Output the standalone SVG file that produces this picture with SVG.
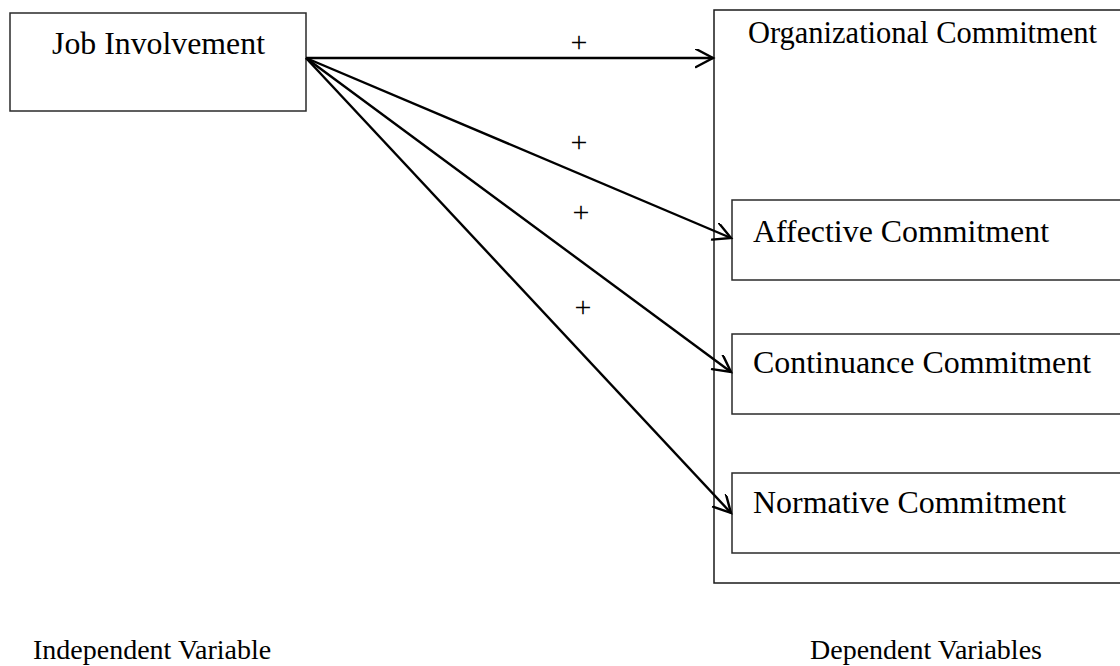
<svg xmlns="http://www.w3.org/2000/svg" width="1120" height="666" viewBox="0 0 1120 666">
  <style>
    .box { fill: #fff; stroke: #2a2a2a; stroke-width: 1.5; }
    .outer { fill: none; stroke: #1a1a1a; stroke-width: 1.5; }
    .lbl { font-family: "Liberation Serif", "Times New Roman", serif; font-size: 32px; fill: #000; }
    .cap { font-family: "Liberation Serif", "Times New Roman", serif; font-size: 28px; fill: #000; }
    .plus { font-family: "Liberation Serif", "Times New Roman", serif; font-size: 30px; fill: #000; text-anchor: middle; }
    .conn { stroke: #000; stroke-width: 2.4; fill: none; marker-end: url(#arr); }
  </style>
  <defs>
    <marker id="arr" markerUnits="userSpaceOnUse" markerWidth="22" markerHeight="22" refX="18" refY="9" orient="auto" viewBox="0 0 22 22">
      <path d="M1,0 L18,9 L1,18" fill="none" stroke="#000" stroke-width="2.4" stroke-linecap="round" stroke-linejoin="miter"/>
    </marker>
  </defs>
  <rect width="1120" height="666" fill="#fff"/>

  <g id="organizational-commitment">
    <rect class="outer" x="714" y="10" width="410" height="573"/>
    <text class="lbl" x="748" y="43" textLength="349" lengthAdjust="spacingAndGlyphs">Organizational Commitment</text>
  </g>

  <g id="job-involvement">
    <rect class="box" x="10" y="13" width="296" height="98"/>
    <text class="lbl" x="52" y="54" textLength="213" lengthAdjust="spacingAndGlyphs">Job Involvement</text>
  </g>

  <g id="affective-commitment">
    <rect class="box" x="732" y="200" width="392" height="80"/>
    <text class="lbl" x="753" y="242" textLength="296" lengthAdjust="spacingAndGlyphs">Affective Commitment</text>
  </g>

  <g id="continuance-commitment">
    <rect class="box" x="732" y="334" width="392" height="80"/>
    <text class="lbl" x="753" y="373" textLength="338" lengthAdjust="spacingAndGlyphs">Continuance Commitment</text>
  </g>

  <g id="normative-commitment">
    <rect class="box" x="732" y="473" width="392" height="80"/>
    <text class="lbl" x="753" y="513" textLength="313" lengthAdjust="spacingAndGlyphs">Normative Commitment</text>
  </g>

  <g id="connectors">
    <line class="conn" x1="306" y1="58" x2="713" y2="58"/>
    <line class="conn" x1="306" y1="58" x2="731" y2="238"/>
    <line class="conn" x1="306" y1="58" x2="731" y2="372"/>
    <line class="conn" x1="306" y1="58" x2="731" y2="513"/>
    <text class="plus" x="579" y="52">+</text>
    <text class="plus" x="579" y="152">+</text>
    <text class="plus" x="581" y="222">+</text>
    <text class="plus" x="583" y="317">+</text>
  </g>

  <g id="captions">
    <text class="cap" x="33" y="659">Independent Variable</text>
    <text class="cap" x="810" y="659">Dependent Variables</text>
  </g>
</svg>
